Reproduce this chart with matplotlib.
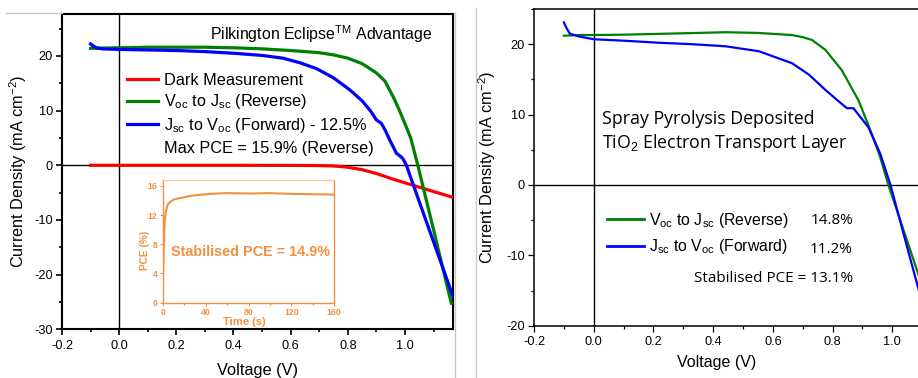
import matplotlib
matplotlib.use("Agg")
import matplotlib.pyplot as plt
from matplotlib.lines import Line2D
from matplotlib.ticker import MultipleLocator, FormatStrFormatter

plt.rcParams.update({
    "font.family": ["Liberation Sans", "DejaVu Sans"],
    "mathtext.fontset": "custom",
    "mathtext.rm": "Liberation Sans",
    "mathtext.it": "Liberation Sans:italic",
    "mathtext.bf": "Liberation Sans:bold",
    "axes.unicode_minus": False,
})

# ---------------- Pilkington Eclipse Advantage J-V data ----------------
dark_v = [-0.1, 0.0, 0.2, 0.4, 0.6, 0.7, 0.75, 0.8, 0.85, 0.9, 0.95, 1.0, 1.05, 1.1, 1.17]
dark_j = [0.0, 0.0, 0.0, 0.0, -0.02, -0.05, -0.12, -0.35, -0.8, -1.5, -2.4, -3.2, -4.0, -4.8, -5.9]

rev_v = [-0.1, 0.0, 0.1, 0.2, 0.3, 0.4, 0.5, 0.6, 0.7, 0.75, 0.8, 0.85, 0.9, 0.93,
         0.96, 0.98, 1.0, 1.02, 1.045, 1.07, 1.1, 1.13, 1.162]
rev_j = [21.4, 21.5, 21.6, 21.6, 21.6, 21.5, 21.3, 21.0, 20.6, 20.2, 19.6, 18.6, 16.9, 15.4,
         12.4, 10.1, 7.6, 5.0, 0.0, -5.4, -11.8, -18.3, -25.2]

fwd_v = [-0.1, -0.09, -0.08, -0.06, 0.0, 0.1, 0.2, 0.3, 0.4, 0.5, 0.573, 0.63, 0.69, 0.75,
         0.807, 0.85, 0.88, 0.9, 0.917, 0.93, 0.947, 0.97, 0.985, 0.993, 1.005, 1.03, 1.07,
         1.1, 1.13, 1.168]
fwd_j = [22.2, 21.8, 21.5, 21.3, 21.2, 21.1, 21.0, 20.8, 20.5, 20.1, 19.6, 18.8, 17.7, 16.0,
         13.8, 11.8, 9.9, 8.3, 7.7, 6.5, 4.6, 2.2, 1.6, 1.2, 0.0, -3.7, -9.6,
         -14.0, -18.4, -24.0]

# Stabilised efficiency tracking (inset)
track_t = [0, 0.5, 1, 1.5, 2, 3, 4, 5, 7, 10, 15, 19, 25, 30, 40, 50, 60, 80, 100, 120, 140, 160]
track_pce = [2.0, 4.5, 7.5, 10.0, 11.5, 12.5, 13.1, 13.5, 13.8, 14.1, 14.3, 14.4, 14.6, 14.7,
             14.85, 14.95, 15.0, 14.95, 15.0, 14.9, 14.85, 14.8]

# ---------------- Spray pyrolysis TiO2 J-V data ----------------
sp_rev_v = [-0.1, -0.05, 0.0, 0.1, 0.2, 0.3, 0.442, 0.55, 0.664, 0.7, 0.731, 0.776, 0.831,
            0.887, 0.931, 0.96, 0.987, 1.04, 1.1]
sp_rev_j = [21.2, 21.3, 21.3, 21.35, 21.45, 21.55, 21.7, 21.6, 21.3, 21.0, 20.6, 19.2, 16.3,
            12.0, 7.3, 3.9, 0.0, -6.7, -14.3]

sp_fwd_v = [-0.1, -0.09, -0.08, -0.05, 0.0, 0.1, 0.22, 0.33, 0.442, 0.553, 0.664, 0.72, 0.776,
            0.82, 0.848, 0.87, 0.92, 0.96, 0.994, 1.04, 1.1]
sp_fwd_j = [23.1, 22.2, 21.5, 21.1, 20.7, 20.5, 20.2, 20.0, 19.7, 19.0, 17.3, 15.7, 13.5,
            11.9, 10.9, 10.9, 8.2, 4.4, 0.0, -7.3, -16.7]

labels_left = ["Dark Measurement",
               r"V$_{\mathrm{oc}}$ to J$_{\mathrm{sc}}$ (Reverse)",
               r"J$_{\mathrm{sc}}$ to V$_{\mathrm{oc}}$ (Forward) - 12.5%"]
labels_right = [r"V$_{\mathrm{oc}}$ to J$_{\mathrm{sc}}$ (Reverse)",
                r"J$_{\mathrm{sc}}$ to V$_{\mathrm{oc}}$ (Forward)"]
pce_right = ["14.8%", "11.2%"]

RED, GREEN, BLUE = "#ff0000", "#008000", "#0000ff"
ORANGE = "#f39040"
W, H = 918, 378

fig = plt.figure(figsize=(W / 100, H / 100), dpi=100)


def frac(x0, y0, x1, y1):
    return [x0 / W, 1 - y1 / H, (x1 - x0) / W, (y1 - y0) / H]


def style_axes(ax, lw, ylab_x):
    for s in ax.spines.values():
        s.set_linewidth(lw)
    ax.xaxis.set_major_locator(MultipleLocator(0.2))
    ax.xaxis.set_minor_locator(MultipleLocator(0.1))
    ax.yaxis.set_major_locator(MultipleLocator(10))
    ax.yaxis.set_minor_locator(MultipleLocator(5))
    ax.xaxis.set_major_formatter(FormatStrFormatter("%.1f"))
    ax.yaxis.set_major_formatter(FormatStrFormatter("%d"))
    ax.tick_params(which="both", direction="out", top=False, right=False, width=lw * 0.8,
                   labelsize=9.2, colors="black")
    ax.tick_params(which="major", length=4.2, pad=2.2)
    ax.tick_params(which="minor", length=2.4)
    ax.tick_params(axis="x", which="major", pad=3.5)
    ax.set_ylabel("Current Density (mA cm$^{-2}$)", fontsize=11.7)
    ax.yaxis.set_label_coords(ylab_x, 0.5)
    ax.axhline(0, color="black", lw=1.0, zorder=1)
    ax.axvline(0, color="black", lw=1.0, zorder=1)


# ---------------- left panel ----------------
ax1 = fig.add_axes(frac(62, 14, 453, 329.3))
ax1.plot(dark_v, dark_j, color=RED, lw=2.3, label=labels_left[0], zorder=3)
ax1.plot(rev_v, rev_j, color=GREEN, lw=2.3, label=labels_left[1], zorder=3)
ax1.plot(fwd_v, fwd_j, color=BLUE, lw=2.3, label=labels_left[2], zorder=4)
ax1.set_xlim(-0.2, 1.168)
ax1.set_ylim(-30, 27.68)
style_axes(ax1, 1.5, -0.084)
ax1.set_xlabel("Voltage (V)", fontsize=11.8)
ax1.xaxis.set_label_coords(0.5, -0.107)
ax1.text(0.3785, 0.9175, r"Pilkington Eclipse$^{\mathrm{TM}}$ Advantage", fontsize=11.4,
         transform=ax1.transAxes, va="baseline", ha="left")
ax1.legend(loc="upper left", bbox_to_anchor=((127 - 62) / 391, (329.3 - 73) / 315.3),
           frameon=False, fontsize=11.7, handlelength=1.9, handletextpad=0.4,
           borderpad=0, borderaxespad=0, labelspacing=0.27)
ax1.text((164.3 - 62) / 391, (329.3 - 153.3) / 315.3, "Max PCE = 15.9% (Reverse)",
         fontsize=11.7, transform=ax1.transAxes, va="baseline", ha="left")

# inset: stabilised PCE vs time
ax3 = fig.add_axes(frac(162.7, 180, 334.3, 302.7))
ax3.plot(track_t, track_pce, color=ORANGE, lw=1.5)
ax3.set_xlim(0, 160)
ax3.set_ylim(0, 16.8)
for s in ax3.spines.values():
    s.set_color(ORANGE)
    s.set_linewidth(1.0)
ax3.spines["top"].set_color("#f8c9a0")
ax3.xaxis.set_major_locator(MultipleLocator(40))
ax3.xaxis.set_minor_locator(MultipleLocator(20))
ax3.yaxis.set_major_locator(MultipleLocator(4))
ax3.tick_params(which="both", direction="out", colors=ORANGE, labelsize=6.3, width=0.8,
                top=False, right=False, pad=1.2)
ax3.tick_params(which="major", length=2.5)
ax3.tick_params(which="minor", length=1.5)
for lab in ax3.get_xticklabels() + ax3.get_yticklabels():
    lab.set_fontweight("bold")
ax3.set_xlabel("Time (s)", color=ORANGE, fontsize=8.1, fontweight="bold")
ax3.xaxis.set_label_coords(0.474, -0.114)
ax3.set_ylabel("PCE (%)", color=ORANGE, fontsize=7.3, fontweight="bold")
ax3.yaxis.set_label_coords(-0.075, 0.43)
ax3.text(0.048, 0.4157, "Stabilised PCE = 14.9%", color=ORANGE, fontsize=10.4,
         fontweight="bold", transform=ax3.transAxes, va="center", ha="left")

# ---------------- right panel ----------------
ax2 = fig.add_axes(frac(534, 9, 534 + 415, 325.7))
ax2.plot(sp_rev_v, sp_rev_j, color=GREEN, lw=1.6, label=labels_right[0], zorder=3)
ax2.plot(sp_fwd_v, sp_fwd_j, color=BLUE, lw=1.6, label=labels_right[1], zorder=4)
ax2.set_xlim(-0.2, 1.19)
ax2.set_ylim(-20, 25)
style_axes(ax2, 1.1, -0.087)
ax2.set_xlabel("Voltage (V)", fontsize=11.5)
ax2.xaxis.set_label_coords((716.7 - 534) / 415, -0.093)
leg2 = ax2.legend(loc="upper left", bbox_to_anchor=((606.7 - 534) / 415, (325.7 - 211) / 316.7),
                  frameon=False, fontsize=11.4, handlelength=2.35, handletextpad=0.3,
                  borderpad=0, borderaxespad=0, labelspacing=0.45)
for h in leg2.get_lines():
    h.set_linewidth(2.0)
note_font = ["Open Sans", "DejaVu Sans"]
ax2.text((601.7 - 534) / 415, (325.7 - 124) / 316.7, "Spray Pyrolysis Deposited",
         family=note_font, fontsize=12.8, transform=ax2.transAxes, va="baseline")
ax2.text((601.7 - 534) / 415, (325.7 - 148.3) / 316.7, "TiO$_2$ Electron Transport Layer",
         family=note_font, fontsize=12.8, transform=ax2.transAxes, va="baseline")
for txt, yb in zip(pce_right + ["Stabilised PCE = 13.1%"], [224, 252.7, 281.7]):
    ax2.text((853 - 534) / 415, (325.7 - yb) / 316.7, txt, family=note_font, fontsize=11,
             transform=ax2.transAxes, va="baseline", ha="right")

# light panel borders
border = dict(color="#c8c8c8", lw=1.0, transform=fig.transFigure)
fig.add_artist(Line2D([6 / W, 62 / W], [1 - 13.3 / H] * 2, **border))
fig.add_artist(Line2D([454.5 / W] * 2, [1 - 13.3 / H, 0], **border))
fig.add_artist(Line2D([475.7 / W] * 2, [1 - 8 / H, 0], **border))

fig.savefig("out.png", dpi=100)
